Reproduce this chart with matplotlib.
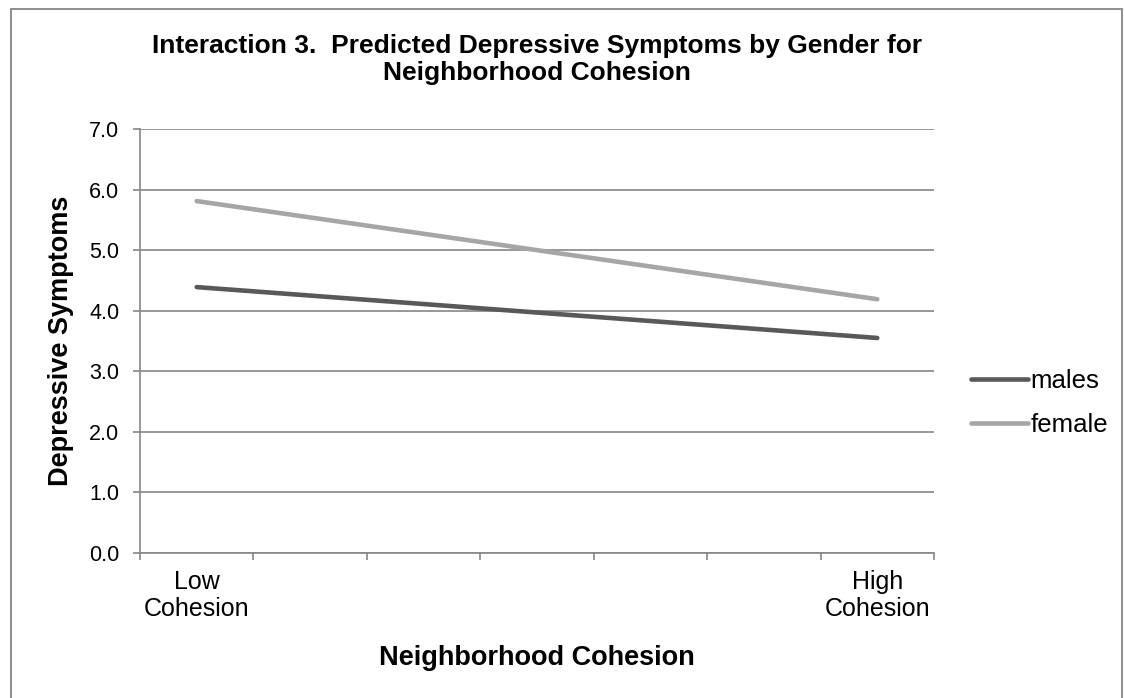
import numpy as np
import matplotlib.pyplot as plt
from matplotlib.patches import Rectangle

plt.rcParams['font.family'] = ['Liberation Sans', 'DejaVu Sans']

categories = ['Low\nCohesion', '', '', '', '', '', 'High\nCohesion']
males = [4.39, None, None, None, None, None, 3.55]
female = [5.81, None, None, None, None, None, 4.19]
series_names = ['males', 'female']
series_colors = ['#595959', '#a6a6a6']
yticks = [0.0, 1.0, 2.0, 3.0, 4.0, 5.0, 6.0, 7.0]

W, H = 1125, 698
fig = plt.figure(figsize=(W / 100, H / 100), dpi=100)
ax = fig.add_axes([140 / W, 1 - 553 / H, (934 - 140) / W, (553 - 129) / H])

# chart area border
fig.patches.append(Rectangle((11 / W, -0.01), (1122 - 11) / W, 1.01 - 9 / H,
                             transform=fig.transFigure, fill=False,
                             edgecolor='#868686', linewidth=1.3))

x = np.arange(len(categories))
for vals, name, col in zip([males, female], series_names, series_colors):
    v = np.array([np.nan if a is None else a for a in vals], dtype=float)
    ok = ~np.isnan(v)
    ax.plot(x[ok], v[ok], color=col, lw=3.3, solid_capstyle='round', label=name)

ax.set_xlim(-0.5, len(categories) - 0.5)
ax.set_ylim(0, 7)
ax.set_yticks(yticks)
ax.set_yticklabels([f'{t:.1f}' for t in yticks], fontsize=15.5)
ax.yaxis.grid(True, color='#868686', lw=1.2)
ax.set_axisbelow(True)

ax.set_xticks(np.arange(len(categories) + 1) - 0.5)
ax.set_xticklabels([])
ax.set_xticks(x, minor=True)
ax.set_xticklabels(categories, minor=True, fontsize=18, linespacing=1.2)
ax.tick_params(axis='x', which='minor', length=0, pad=12)
ax.tick_params(axis='x', which='major', length=5, color='#868686', width=1.2)
ax.tick_params(axis='y', length=5, color='#868686', width=1.2, pad=10)

for s in ['top', 'right']:
    ax.spines[s].set_visible(False)
for s in ['left', 'bottom']:
    ax.spines[s].set_color('#868686')
    ax.spines[s].set_linewidth(1.2)

ax.set_xlabel('Neighborhood Cohesion', fontsize=19.5, fontweight='bold')
ax.xaxis.label.set_verticalalignment('center')
ax.xaxis.set_label_coords(0.5, -(658 - 553) / (553 - 129))
ax.set_ylabel('Depressive Symptoms', fontsize=19.5, fontweight='bold')
ax.yaxis.label.set_verticalalignment('center')
ax.yaxis.set_label_coords(-(140 - 61) / (934 - 140), 0.5)

fig.text(537 / W, 1 - 53 / H, 'Interaction 3.  Predicted Depressive Symptoms by Gender for',
         ha='center', va='baseline', fontsize=19, fontweight='bold')
fig.text(537 / W, 1 - 80 / H, 'Neighborhood Cohesion',
         ha='center', va='baseline', fontsize=19, fontweight='bold')

ax.legend(loc='center left', bbox_to_anchor=(971 / W, 1 - 403 / H),
          bbox_transform=fig.transFigure, frameon=False, fontsize=18.5,
          handlelength=2.2, handletextpad=0.12, labelspacing=0.75,
          borderpad=0, borderaxespad=0)

fig.savefig('out.png', dpi=100)
